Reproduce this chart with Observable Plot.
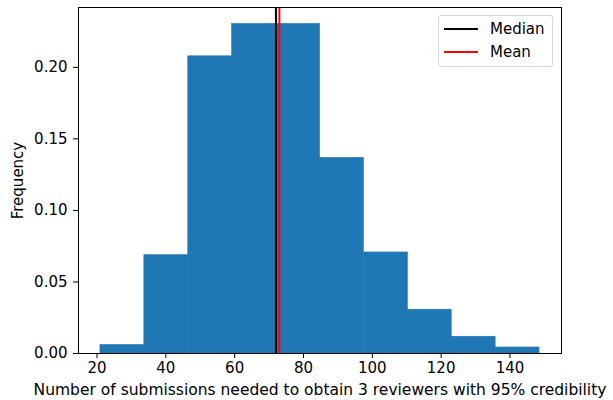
<!DOCTYPE html>
<html>
<head>
<meta charset="utf-8">
<script src="https://cdn.jsdelivr.net/npm/d3@7"></script>
<script src="https://cdn.jsdelivr.net/npm/@observablehq/plot@0.6"></script>
<style>
  body { margin: 0; background: #fff; }
  #wrap { position: relative; width: 613px; height: 400px; font-family: "DejaVu Sans", sans-serif; }
  #wrap g[aria-label="x-axis label"] text { font-size: 15.5px; }
  #legend { position: absolute; left: 438px; top: 15px; width: 113px; height: 50px; border: 1px solid #d6d6d6; border-radius: 3px; background: rgba(255,255,255,0.8); font-size: 15px; color: #000; }
  .row { position: absolute; left: 5px; height: 20px; display: flex; align-items: center; }
  .sw { width: 34px; height: 2px; margin-right: 12px; }
</style>
</head>
<body>
<div id="wrap"></div>
<script>
const binEdges = [21.0, 33.76, 46.52, 59.28, 72.04, 84.8, 97.56, 110.32, 123.08, 135.84, 148.6];
const frequencies = [0.0059, 0.0687, 0.2077, 0.2303, 0.2303, 0.1367, 0.0706, 0.0306, 0.0117, 0.0042];
const median = 72;
const mean = 73;
const xTicks = [20, 40, 60, 80, 100, 120, 140];
const yTicks = [0, 0.05, 0.10, 0.15, 0.20];
const legendItems = [{label: "Median", color: "black"}, {label: "Mean", color: "red"}];

const bins = frequencies.map((f, i) => ({x1: binEdges[i], x2: binEdges[i + 1], y: f}));
const xMin = binEdges[0], xMax = binEdges[binEdges.length - 1];
const pad = (xMax - xMin) * 0.05;
const yMax = d3.max(frequencies) * 1.05;

const chart = Plot.plot({
  width: 613,
  height: 400,
  marginLeft: 78,
  marginRight: 52,
  marginTop: 7,
  marginBottom: 47,
  style: {fontFamily: "DejaVu Sans, sans-serif", fontSize: "15px", color: "#000", background: "#fff"},
  x: {domain: [xMin - pad, xMax + pad], ticks: xTicks, tickSize: 5, tickPadding: 4, label: "Number of submissions needed to obtain 3 reviewers with 95% credibility", labelAnchor: "center", labelArrow: "none", labelOffset: 41},
  y: {domain: [0, yMax], ticks: yTicks, tickFormat: d3.format(".2f"), tickSize: 5, tickPadding: 6, label: "Frequency", labelAnchor: "center", labelArrow: "none", labelOffset: 66},
  marks: [
    Plot.rectY(bins, {x1: "x1", x2: "x2", y: "y", fill: "#1f77b4", stroke: "#1f77b4", strokeWidth: 0.6, inset: 0}),
    Plot.ruleX([median], {stroke: "black", strokeWidth: 2}),
    Plot.ruleX([mean], {stroke: "red", strokeWidth: 2}),
    Plot.frame({stroke: "black", strokeWidth: 1})
  ]
});
document.getElementById("wrap").appendChild(chart);

const legend = document.createElement("div");
legend.id = "legend";
legendItems.forEach((d, i) => {
  const row = document.createElement("div");
  row.className = "row";
  row.style.top = (3 + i * 23) + "px";
  row.innerHTML = `<span class="sw" style="background:${d.color}"></span><span>${d.label}</span>`;
  legend.appendChild(row);
});
document.getElementById("wrap").appendChild(legend);
</script>
</body>
</html>
